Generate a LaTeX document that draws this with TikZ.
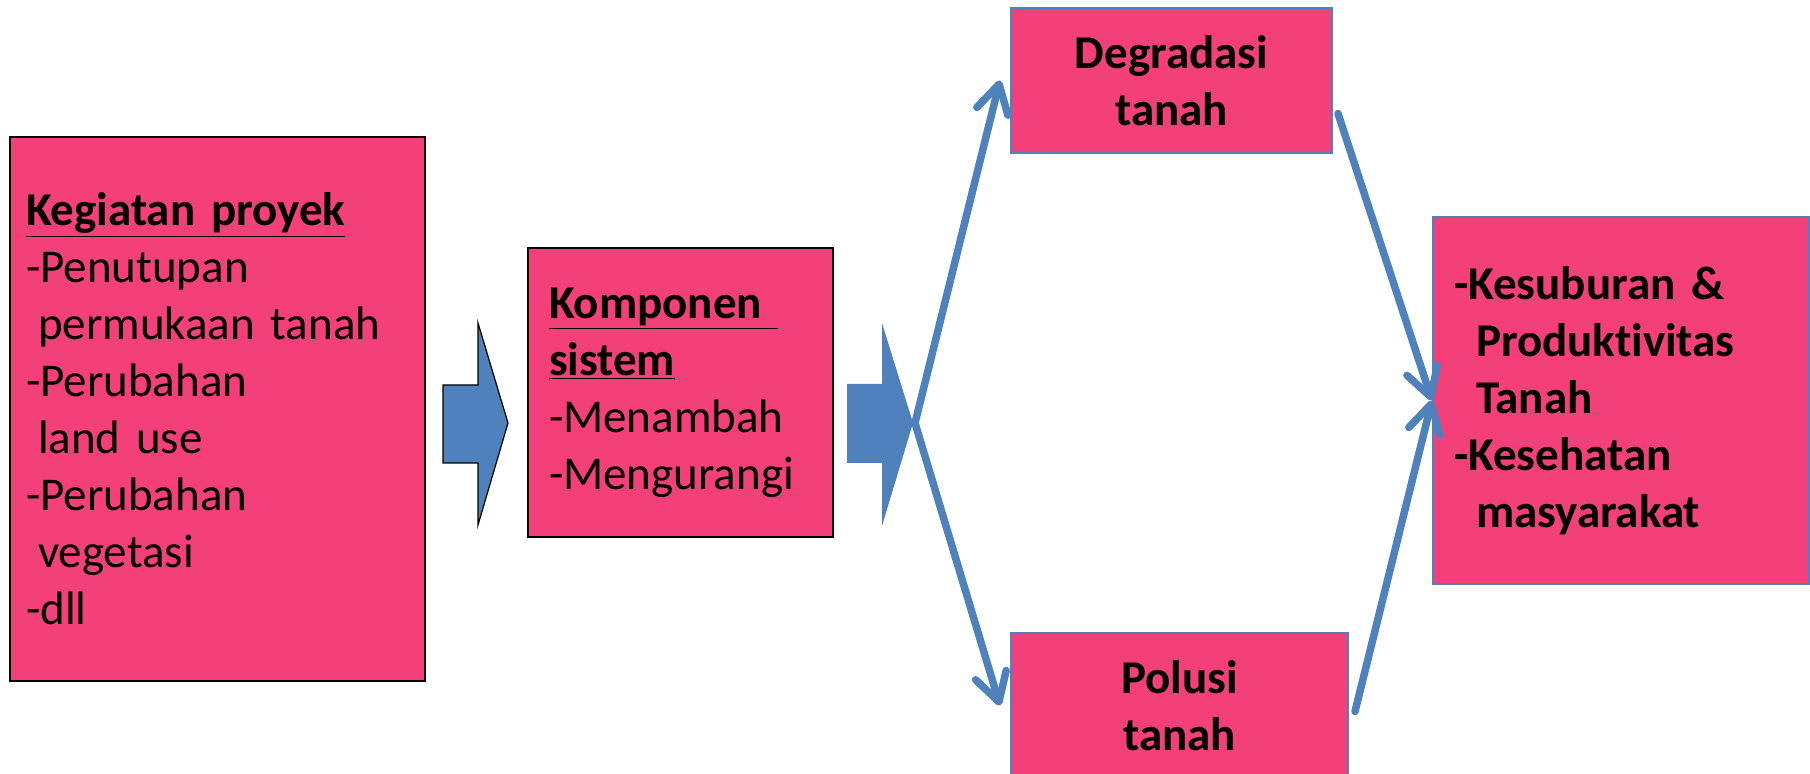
\documentclass[tikz,border=0pt]{standalone}
\usepackage{fontspec}
\setmainfont{Carlito}[Ligatures=NoCommon]
\usetikzlibrary{arrows.meta}
\definecolor{boxpink}{RGB}{243,64,122}
\definecolor{flowblue}{RGB}{79,129,189}
\newcommand{\boxfont}{\fontsize{23.5}{28.5}\selectfont}

\begin{document}
\begin{tikzpicture}[x=0.5pt,y=-0.5pt,
    blk/.style={draw=black,line width=1pt,fill=boxpink,inner ysep=0pt,
        anchor=north west,align=left,font=\boxfont},
    res/.style={draw=flowblue,line width=1pt,fill=boxpink,inner ysep=0pt,
        anchor=north west,font=\boxfont\bfseries},
    flow/.style={draw=flowblue,line width=3.75pt,line cap=round,
        -{Straight Barb[length=14pt,width=16pt,round]}}]
    \useasboundingbox (0,0) rectangle (1810,774);
    % the boxes
    \node[blk,minimum width=207.5pt,minimum height=272pt,inner xsep=8pt,
        text width=191.5pt] (proyek) at (9,136)
        {\textbf{\underline{Kegiatan proyek}}\\
         -Penutupan\\ \hspace*{6pt}permukaan tanah\\
         -Perubahan\\ \hspace*{6pt}land use\\
         -Perubahan\\ \hspace*{6pt}vegetasi\\
         -dll};
    \node[blk,minimum width=152.5pt,minimum height=144.5pt,inner xsep=10.5pt,
        text width=131.5pt] (komponen) at (527,247)
        {\textbf{\underline{Komponen\ }}\\ \textbf{\underline{sistem}}\\
         -Menambah\\ -Mengurangi};
    \node[res,minimum width=160.5pt,minimum height=72.5pt,align=center]
        (deg) at (1010,7) {Degradasi\\ tanah};
    \node[res,minimum width=168.5pt,minimum height=72.5pt,align=center]
        (pol) at (1010,632) {Polusi\\ tanah};
    \node[res,minimum width=188pt,minimum height=183.5pt,inner xsep=10.5pt,
        text width=167pt,align=left] (hasil) at (1432,216)
        {-Kesuburan \&\\ \hspace*{11pt}Produktivitas\\ \hspace*{11pt}Tanah\\
         -Kesehatan\\ \hspace*{11pt}masyarakat};

    % the block arrows
    \filldraw[fill=flowblue,draw=black,line width=0.6pt]
        (443,385) -- (478,385) -- (478,323) -- (508,423) -- (478,525)
        -- (478,463) -- (443,463) -- cycle;
    \fill[flowblue] (847,384) -- (882,384) -- (882,323) -- (913,423)
        -- (882,526) -- (882,463) -- (847,463) -- cycle;
    \coordinate (fork) at (915,423);

    % the connectors
    \draw[flow] (fork) -- ([xshift=-5pt]deg.west);
    \draw[flow] (fork) -- ([xshift=-5pt]pol.west);
    \draw[flow] ([xshift=2.5pt,yshift=-16.5pt]deg.east) -- (hasil.west);
    \draw[flow] ([xshift=3pt,yshift=-3pt]pol.east) -- (hasil.west);
\end{tikzpicture}
\end{document}
